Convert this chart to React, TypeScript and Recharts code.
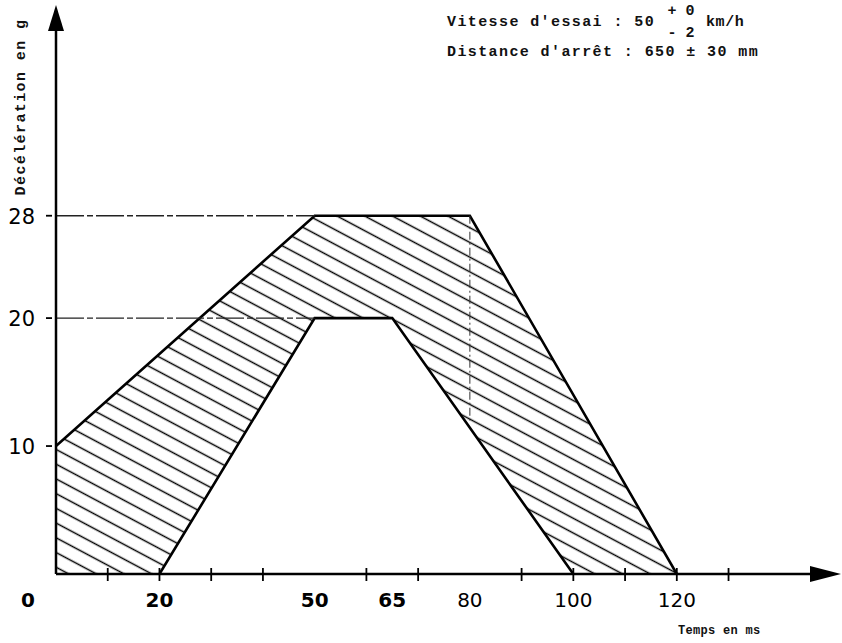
import { Area, ComposedChart, ReferenceDot, ReferenceLine, XAxis, YAxis } from "recharts"

// corridor limits (time in ms, deceleration in g)
const upperLimit = [
  { t: 0, g: 10 },
  { t: 50, g: 28 },
  { t: 80, g: 28 },
  { t: 120, g: 0 },
]
const lowerLimit = [
  { t: 20, g: 0 },
  { t: 50, g: 20 },
  { t: 65, g: 20 },
  { t: 100, g: 0 },
]

const xLabels = [0, 20, 50, 65, 80, 100, 120]
const xBoldLabels = [0, 20, 50, 65]
const xMarks = [10, 20, 30, 40, 60, 70, 90, 100, 110, 120, 130]
const yLabels = [10, 20, 28]
const guideLevels = [20, 28]
const guideEnd = 50
const constructionLine = [
  { t: 80, g: 28 },
  { t: 80, g: 12 },
]

const xTicks = Array.from(new Set([...xLabels, ...xMarks])).sort((a, b) => a - b)

const mono = "'Liberation Mono', 'DejaVu Sans Mono', monospace"
const sans = "'DejaVu Sans', 'Liberation Sans', sans-serif"

function XTick(props: any) {
  const { x, y, payload } = props
  const v = payload.value
  return (
    <g>
      {xMarks.includes(v) && <line x1={x} x2={x} y1={y - 6} y2={y + 7} stroke="#000" strokeWidth={1.8} />}
      {xLabels.includes(v) && (
        <text
          x={v === 0 ? x - 28 : x}
          y={y + 33}
          textAnchor="middle"
          style={{ fontFamily: sans, fontSize: 20, fontWeight: xBoldLabels.includes(v) ? 700 : 400 }}
          fill="#000"
        >
          {v}
        </text>
      )}
    </g>
  )
}

function YTick(props: any) {
  const { x, y, payload } = props
  return (
    <g>
      <line x1={x - 10} x2={x - 4} y1={y} y2={y} stroke="#000" strokeWidth={1.8} />
      <text x={x - 21} y={y + 8} textAnchor="end" style={{ fontFamily: sans, fontSize: 21 }} fill="#000">
        {payload.value}
      </text>
    </g>
  )
}

export default function App() {
  return (
    <div style={{ position: "absolute", left: 0, top: 0, width: 842, height: 643, background: "#fff" }}>
      <ComposedChart width={842} height={643} margin={{ top: 11, right: 10, bottom: 68, left: 55 }}>
        <defs>
          <pattern id="hatch" patternUnits="userSpaceOnUse" width={24} height={13} patternTransform="rotate(28)">
            <line x1={0} y1={6.5} x2={24} y2={6.5} stroke="#000" strokeWidth={1.5} />
          </pattern>
        </defs>
        {guideLevels.map((lv) => (
          <ReferenceLine
            key={lv}
            segment={[
              { x: 0, y: lv },
              { x: guideEnd, y: lv },
            ]}
            stroke="#222"
            strokeWidth={1.4}
            strokeDasharray="28 3 6 3"
          />
        ))}
        <Area
          data={upperLimit}
          dataKey="g"
          type="linear"
          stroke="#000"
          strokeWidth={2.6}
          fill="url(#hatch)"
          fillOpacity={1}
          dot={false}
          activeDot={false}
          isAnimationActive={false}
        />
        <Area
          data={lowerLimit}
          dataKey="g"
          type="linear"
          stroke="#000"
          strokeWidth={2.6}
          fill="#fff"
          fillOpacity={1}
          dot={false}
          activeDot={false}
          isAnimationActive={false}
        />
        <ReferenceLine
          segment={constructionLine.map((p) => ({ x: p.t, y: p.g }))}
          stroke="#333"
          strokeWidth={1}
          strokeDasharray="8 3 2 3"
        />
        <XAxis
          type="number"
          dataKey="t"
          domain={[0, 150]}
          ticks={xTicks}
          interval={0}
          height={1}
          tickSize={0}
          tickMargin={0}
          tickLine={false}
          axisLine={{ stroke: "#000", strokeWidth: 2.5 }}
          tick={(p: any) => <XTick {...p} />}
          allowDataOverflow
        />
        <YAxis
          type="number"
          dataKey="g"
          domain={[0, 44]}
          ticks={yLabels}
          interval={0}
          width={1}
          tickSize={0}
          tickMargin={0}
          tickLine={false}
          axisLine={{ stroke: "#000", strokeWidth: 2.5 }}
          tick={(p: any) => <YTick {...p} />}
          allowDataOverflow
        />
        <ReferenceDot
          x={150}
          y={0}
          ifOverflow="visible"
          shape={(p: any) => (
            <path d={`M${p.cx - 22},${p.cy - 8} L${p.cx + 9},${p.cy} L${p.cx - 22},${p.cy + 8} Z`} fill="#000" />
          )}
        />
        <ReferenceDot
          x={0}
          y={44}
          ifOverflow="visible"
          shape={(p: any) => (
            <path d={`M${p.cx - 8},${p.cy + 20} L${p.cx},${p.cy - 6} L${p.cx + 8},${p.cy + 20} Z`} fill="#000" />
          )}
        />
      </ComposedChart>
      <svg
        width={842}
        height={643}
        style={{ position: "absolute", left: 0, top: 0, pointerEvents: "none" }}
      >
        <g style={{ fontFamily: mono, fontWeight: 700 }} fill="#111">
          <text x={447} y={26} fontSize={15} letterSpacing={1.4}>
            Vitesse d'essai : 50
          </text>
          <text x={672} y={15} fontSize={15} textAnchor="middle">+</text>
          <text x={690} y={15} fontSize={15} textAnchor="middle">0</text>
          <text x={672} y={37} fontSize={15} textAnchor="middle">-</text>
          <text x={690} y={37} fontSize={15} textAnchor="middle">2</text>
          <text x={706} y={26} fontSize={15} letterSpacing={0.6}>
            km/h
          </text>
          <text x={447} y={56} fontSize={15} letterSpacing={1.4}>
            Distance d'arrêt : 650 ± 30 mm
          </text>
          <text
            x={21}
            y={107}
            fontSize={15}
            letterSpacing={1.4}
            textAnchor="middle"
            dominantBaseline="central"
            transform="rotate(-90 21 107)"
          >
            Décélération en g
          </text>
          <text x={678} y={634} fontSize={12} letterSpacing={0.3}>
            Temps en ms
          </text>
        </g>
      </svg>
    </div>
  )
}
